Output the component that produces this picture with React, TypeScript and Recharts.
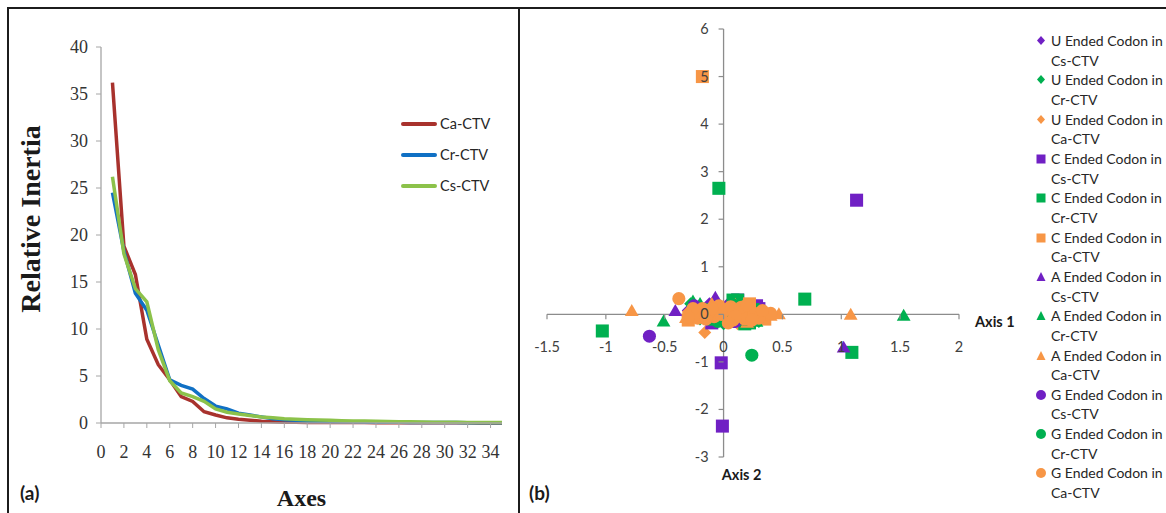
import React from 'react'
import {
  LineChart, Line, XAxis, YAxis, Legend, Label,
  ScatterChart, Scatter, ReferenceLine, Symbols,
} from 'recharts'

// (a) relative inertia of the correspondence axes
const axisNumbers = [1, 2, 3, 4, 5, 6, 7, 8, 9, 10, 11, 12, 13, 14, 15, 16, 17, 18, 19, 20, 21, 22, 23, 24, 25, 26, 27, 28, 29, 30, 31, 32, 33, 34, 35]
const caCtv = [36.2, 18.8, 15.8, 8.9, 6.2, 4.6, 2.8, 2.3, 1.2, 0.85, 0.55, 0.4, 0.3, 0.18, 0.12, 0.08, 0.07, 0.06, 0.05, 0.05, 0.04, 0.04, 0.04, 0.03, 0.03, 0.03, 0.03, 0.02, 0.02, 0.02, 0.02, 0.02, 0.01, 0.01, 0.01]
const crCtv = [24.5, 18.3, 13.8, 12.0, 8.3, 4.6, 4.0, 3.6, 2.6, 1.8, 1.5, 1.05, 0.85, 0.65, 0.45, 0.35, 0.28, 0.22, 0.18, 0.15, 0.13, 0.12, 0.1, 0.09, 0.08, 0.07, 0.06, 0.05, 0.05, 0.04, 0.04, 0.03, 0.03, 0.02, 0.02]
const csCtv = [26.2, 18.0, 14.3, 12.9, 7.8, 4.5, 3.2, 2.8, 2.3, 1.5, 1.15, 0.95, 0.8, 0.65, 0.55, 0.45, 0.4, 0.35, 0.32, 0.28, 0.25, 0.22, 0.2, 0.18, 0.16, 0.14, 0.12, 0.1, 0.09, 0.08, 0.07, 0.06, 0.06, 0.05, 0.05]
const axesTicks = [0, 2, 4, 6, 8, 10, 12, 14, 16, 18, 20, 22, 24, 26, 28, 30, 32, 34]
const inertiaTicks = [0, 5, 10, 15, 20, 25, 30, 35, 40]

// (b) codon positions on axis 1 / axis 2, [x, y]
const uEndedCs = [[-0.22, 0.15], [-0.05, -0.12], [0.1, 0.05], [0.2, -0.15], [0.3, 0.1], [-0.12, 0.22], [0.05, 0.25], [0.22, 0.18], [-0.3, 0.08]]
const uEndedCr = [[-0.28, 0.22], [-0.1, 0.0], [0.15, 0.2], [0.25, -0.12], [0.0, -0.2], [0.35, 0.05], [-0.2, -0.1], [0.1, 0.28], [0.3, -0.15]]
const uEndedCa = [[-0.16, -0.38], [-0.3, 0.05], [0.0, 0.1], [0.2, 0.0], [0.12, -0.2], [0.3, -0.05]]
const cEndedCs = [[1.13, 2.4], [-0.02, -1.02], [-0.01, -2.35], [0.28, 0.18], [0.05, -0.15], [-0.15, 0.1], [0.12, 0.3], [0.3, 0.12], [-0.1, -0.18]]
const cEndedCr = [[-0.04, 2.65], [-1.03, -0.35], [0.69, 0.32], [1.09, -0.8], [0.08, 0.3], [0.18, -0.2], [-0.08, -0.1], [0.25, 0.1], [0.12, 0.3], [0.22, -0.18]]
const cEndedCa = [[-0.18, 5.0], [-0.3, -0.12], [0.15, 0.05], [0.35, -0.1], [-0.05, 0.15], [0.22, 0.22], [-0.2, 0.05], [0.05, -0.08]]
const aEndedCs = [[-0.41, 0.05], [1.02, -0.72], [0.33, 0.02], [-0.07, 0.33], [0.15, 0.1], [-0.25, -0.05], [0.28, -0.1]]
const aEndedCr = [[-0.51, -0.17], [1.53, -0.05], [0.12, 0.25], [-0.2, 0.2], [0.28, -0.18], [0.02, -0.1], [-0.26, 0.25]]
const aEndedCa = [[-0.78, 0.05], [1.08, -0.03], [0.47, -0.02], [0.4, -0.05], [-0.32, -0.1], [0.2, -0.2], [0.1, 0.18], [-0.02, -0.15], [0.36, 0.0], [-0.1, 0.2]]
const gEndedCs = [[-0.63, -0.46], [-0.25, 0.18], [0.1, -0.15], [0.22, 0.05], [-0.05, 0.05]]
const gEndedCr = [[0.24, -0.86], [-0.15, 0.1], [0.08, 0.2], [0.18, -0.1], [-0.05, -0.15]]
const gEndedCa = [[-0.38, 0.33], [-0.28, 0.0], [-0.18, 0.12], [-0.08, -0.05], [0.02, 0.1], [0.12, 0.0], [0.22, 0.1], [0.3, -0.08], [0.08, -0.12], [-0.12, 0.05], [0.4, 0.02], [-0.22, -0.08], [0.18, -0.1], [0.06, 0.16], [-0.02, 0.0], [-0.26, 0.12], [-0.15, -0.1], [0.15, 0.15], [0.26, 0.02], [0.33, 0.08], [0.1, -0.04], [-0.04, 0.18], [0.2, 0.2], [-0.3, -0.05], [0.04, -0.18], [0.24, -0.12], [-0.1, 0.12]]
const axis1Ticks = [-1.5, -1, -0.5, 0, 0.5, 1, 1.5, 2]
const axis2Ticks = [-3, -2, -1, 0, 1, 2, 3, 4, 5, 6]

const SERIF = "'Liberation Serif', 'Times New Roman', serif"
const SANS = "Lato, 'Liberation Sans', Arial, sans-serif"
const PURPLE = '#7020C4'
const GREEN = '#00B050'
const ORANGE = '#F79646'

const codonSeries = [
  { end: 'U', virus: 'Cs-CTV', points: uEndedCs, color: PURPLE, shape: 'diamond' },
  { end: 'U', virus: 'Cr-CTV', points: uEndedCr, color: GREEN, shape: 'diamond' },
  { end: 'U', virus: 'Ca-CTV', points: uEndedCa, color: ORANGE, shape: 'diamond' },
  { end: 'C', virus: 'Cs-CTV', points: cEndedCs, color: PURPLE, shape: 'square' },
  { end: 'C', virus: 'Cr-CTV', points: cEndedCr, color: GREEN, shape: 'square' },
  { end: 'C', virus: 'Ca-CTV', points: cEndedCa, color: ORANGE, shape: 'square' },
  { end: 'A', virus: 'Cs-CTV', points: aEndedCs, color: PURPLE, shape: 'triangle' },
  { end: 'A', virus: 'Cr-CTV', points: aEndedCr, color: GREEN, shape: 'triangle' },
  { end: 'A', virus: 'Ca-CTV', points: aEndedCa, color: ORANGE, shape: 'triangle' },
  { end: 'G', virus: 'Cs-CTV', points: gEndedCs, color: PURPLE, shape: 'circle' },
  { end: 'G', virus: 'Cr-CTV', points: gEndedCr, color: GREEN, shape: 'circle' },
  { end: 'G', virus: 'Ca-CTV', points: gEndedCa, color: ORANGE, shape: 'circle' },
]

const markerArea: Record<string, number> = { square: 170, triangle: 82, circle: 135 }

const inertiaData = axisNumbers.map((a, i) => ({ axis: a, ca: caCtv[i], cr: crCtv[i], cs: csCtv[i] }))

// right panel geometry (plot area inside its own container)
const R_W = 646
const R_H = 513
const R_MARGIN = { top: 29, right: 207, bottom: 46, left: 17 }
const R_YAXIS_W = 10
const R_XAXIS_H = 10
const R_PLOT_X = R_MARGIN.left + R_YAXIS_W
const R_PLOT_W = R_W - R_PLOT_X - R_MARGIN.right
const R_PLOT_H = R_H - R_MARGIN.top - R_MARGIN.bottom - R_XAXIS_H
// where the axes cross (value 0) inside the plot
const ORIGIN_X = R_PLOT_X + (R_PLOT_W * 1.5) / 3.5
const ORIGIN_Y = R_MARGIN.top + (R_PLOT_H * 6) / 9

const SerifXTick = (props: any) => {
  const { x, y, payload } = props
  return (
    <text x={x} y={y} dy="0.71em" textAnchor="middle" fontSize={18} fontFamily={SERIF} fill="#333">
      {payload.value}
    </text>
  )
}

const SerifYTick = (props: any) => {
  const { x, y, payload } = props
  return (
    <text x={x} y={y} dy="0.355em" textAnchor="end" fontSize={18} fontFamily={SERIF} fill="#333">
      {payload.value}
    </text>
  )
}

const CodonMarker = (props: any) => {
  const { cx, cy, fill, kind } = props
  if (kind === 'diamond') {
    const r = 6.5
    return <polygon points={`${cx},${cy - r} ${cx + r},${cy} ${cx},${cy + r} ${cx - r},${cy}`} fill={fill} />
  }
  return <Symbols cx={cx} cy={cy} type={kind} size={markerArea[kind]} sizeType="area" fill={fill} />
}

const Axis1Tick = (props: any) => {
  const { x, payload } = props
  return (
    <g>
      <line x1={x} x2={x} y1={ORIGIN_Y} y2={ORIGIN_Y + 5} stroke="#8c8c8c" strokeWidth={1.2} />
      <text x={x} y={ORIGIN_Y + 38} textAnchor="middle" fontSize={14.5} fontFamily={SANS} fill="#404040">
        {payload.value}
      </text>
    </g>
  )
}

const Axis2Tick = (props: any) => {
  const { y, payload } = props
  return (
    <g>
      <line x1={ORIGIN_X - 5} x2={ORIGIN_X} y1={y} y2={y} stroke="#8c8c8c" strokeWidth={1.2} />
      <text x={ORIGIN_X - 15} y={y + 5} textAnchor="end" fontSize={14.5} fontFamily={SANS} fill="#404040">
        {payload.value}
      </text>
    </g>
  )
}

const LegendMarker = ({ shape, color }: { shape: string; color: string }) => {
  if (shape === 'diamond') return <polygon points="6,5 10,9.5 6,14 2,9.5" fill={color} />
  if (shape === 'square') return <rect x={1.5} y={5.5} width={9} height={9} fill={color} />
  if (shape === 'triangle') return <polygon points="6,5 10.5,14 1.5,14" fill={color} />
  return <circle cx={6} cy={10} r={5} fill={color} />
}

const LineLegend = ({ payload }: any) => (
  <div style={{ fontFamily: SANS, fontSize: 14.5, color: '#262626' }}>
    {(payload || []).map((p: any) => (
      <div key={p.value} style={{ display: 'flex', alignItems: 'center', height: 31 }}>
        <span style={{ display: 'inline-block', width: 36, height: 4, background: p.color, borderRadius: 2, marginRight: 3 }} />
        {p.value}
      </div>
    ))}
  </div>
)

const CodonLegend = () => (
  <div style={{ fontFamily: SANS, fontSize: 14, color: '#262626', lineHeight: '19.65px', textAlign: 'left' }}>
    {codonSeries.map((s) => (
      <div key={s.end + s.virus} style={{ display: 'flex' }}>
        <svg width={12} height={19.65} style={{ marginRight: 4, flexShrink: 0 }}>
          <LegendMarker shape={s.shape} color={s.color} />
        </svg>
        <div style={{ whiteSpace: 'nowrap' }}>
          {s.end} Ended Codon in
          <br />
          {s.virus}
        </div>
      </div>
    ))}
  </div>
)

export default function App() {
  return (
    <div style={{ position: 'fixed', left: 0, top: 0, width: 1166, height: 513, background: '#fff', overflow: 'hidden' }}>
      {/* figure frame */}
      <div style={{ position: 'absolute', left: 7, top: 7, width: 1200, height: 600, border: '2px solid #1c1c1c' }} />
      <div style={{ position: 'absolute', left: 518, top: 7, width: 2, height: 520, background: '#1c1c1c' }} />

      <div style={{ position: 'absolute', left: 0, top: 0 }}>
        <LineChart width={518} height={513} data={inertiaData} margin={{ top: 47, right: 16, bottom: 60, left: 61 }}>
          <XAxis
            dataKey="axis"
            type="number"
            domain={[0, 35]}
            ticks={axesTicks}
            interval={0}
            height={30}
            tickSize={5}
            tickMargin={17}
            axisLine={{ stroke: '#a6a6a6', strokeWidth: 1.3 }}
            tickLine={{ stroke: '#a6a6a6' }}
            tick={<SerifXTick />}
          >
            <Label value="Axes" position="center" dy={59} style={{ fontSize: 24, fontWeight: 'bold', fontFamily: SERIF, fill: '#1a1a1a' }} />
          </XAxis>
          <YAxis
            type="number"
            domain={[0, 40]}
            ticks={inertiaTicks}
            interval={0}
            width={40}
            tickSize={5}
            tickMargin={8}
            axisLine={{ stroke: '#a6a6a6', strokeWidth: 1.3 }}
            tickLine={{ stroke: '#a6a6a6' }}
            tick={<SerifYTick />}
          >
            <Label value="Relative Inertia" position="center" angle={-90} dx={-51} dy={-16} style={{ fontSize: 28, fontWeight: 'bold', fontFamily: SERIF, fill: '#1a1a1a' }} />
          </YAxis>
          <Legend
            layout="vertical"
            align="center"
            verticalAlign="middle"
            content={<LineLegend />}
            wrapperStyle={{ left: 401, top: 108, width: 110 }}
          />
          <Line type="linear" dataKey="ca" name="Ca-CTV" stroke="#A8322D" strokeWidth={3.5} dot={false} isAnimationActive={false} />
          <Line type="linear" dataKey="cr" name="Cr-CTV" stroke="#1070C4" strokeWidth={3.5} dot={false} isAnimationActive={false} />
          <Line type="linear" dataKey="cs" name="Cs-CTV" stroke="#8CC24A" strokeWidth={3.5} dot={false} isAnimationActive={false} />
        </LineChart>
      </div>

      <div style={{ position: 'absolute', left: 520, top: 0 }}>
        <ScatterChart width={R_W} height={R_H} margin={R_MARGIN}>
          <XAxis
            dataKey="x"
            type="number"
            domain={[-1.5, 2]}
            ticks={axis1Ticks}
            interval={0}
            height={R_XAXIS_H}
            axisLine={false}
            tickLine={false}
            tick={<Axis1Tick />}
          />
          <YAxis
            dataKey="y"
            type="number"
            domain={[-3, 6]}
            ticks={axis2Ticks}
            interval={0}
            width={R_YAXIS_W}
            axisLine={false}
            tickLine={false}
            tick={<Axis2Tick />}
          />
          <ReferenceLine y={0} stroke="#8c8c8c" strokeWidth={1.3}>
            <Label value="Axis 1" position="right" offset={16} dy={8} style={{ fontSize: 14.5, fontWeight: 'bold', fontFamily: SANS, fill: '#1a1a1a' }} />
          </ReferenceLine>
          <ReferenceLine x={0} stroke="#8c8c8c" strokeWidth={1.3}>
            <Label value="Axis 2" position="bottom" offset={13} dx={18} style={{ fontSize: 14.5, fontWeight: 'bold', fontFamily: SANS, fill: '#1a1a1a' }} />
          </ReferenceLine>
          {codonSeries.map((s) => (
            <Scatter
              key={s.end + s.virus}
              name={`${s.end} Ended Codon in ${s.virus}`}
              data={s.points.map(([x, y]) => ({ x, y }))}
              fill={s.color}
              shape={(p: any) => <CodonMarker {...p} kind={s.shape} />}
              isAnimationActive={false}
            />
          ))}
          <Legend
            layout="vertical"
            align="center"
            verticalAlign="middle"
            content={<CodonLegend />}
            wrapperStyle={{ left: 515, top: 31, width: 135 }}
          />
        </ScatterChart>
      </div>

      <div style={{ position: 'absolute', left: 20, top: 481, fontFamily: SANS, fontWeight: 'bold', fontSize: 19, color: '#1a1a1a' }}>(a)</div>
      <div style={{ position: 'absolute', left: 529, top: 481, fontFamily: SANS, fontWeight: 'bold', fontSize: 19, color: '#1a1a1a' }}>(b)</div>
    </div>
  )
}
